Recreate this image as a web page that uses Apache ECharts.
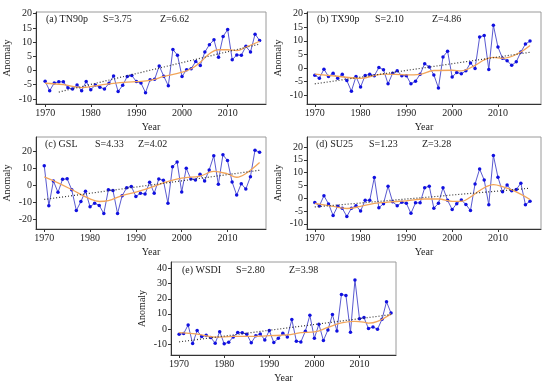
<!DOCTYPE html>
<html><head><meta charset="utf-8">
<script src="https://cdn.jsdelivr.net/npm/echarts@6/dist/echarts.min.js"></script>
<style>html,body{margin:0;padding:0;background:#fff}#c{width:550px;height:392px}</style>
</head><body><div id="c"></div>
<script>
const years = [];
for (let y = 1970; y <= 2017; y++) years.push(y);

const tn90p = [-3.8,-7.1,-4.4,-4.0,-4.0,-6.1,-6.5,-5.1,-7.1,-3.9,-6.8,-5.1,-5.9,-6.5,-4.5,-1.9,-7.4,-5.2,-2.1,-1.8,-3.9,-4.4,-7.8,-3.3,-3.1,1.6,-2.0,-5.4,7.4,5.4,-2.1,0.3,0.6,3.2,1.8,6.5,9.1,10.8,4.7,12.0,14.4,3.8,5.5,5.4,8.5,6.5,12.8,10.6];
const tx90p = [-2.6,-3.7,-0.4,-3.1,-1.9,-3.7,-2.3,-4.6,-8.5,-3.1,-7.0,-2.7,-2.3,-2.8,0.2,-0.6,-5.8,-1.9,-1.0,-2.8,-2.8,-5.8,-4.8,-2.3,1.6,0.4,-2.5,-7.3,4.1,6.2,-3.3,-1.6,-2.1,-1.0,1.9,-0.2,11.4,12.0,-0.5,15.7,7.7,3.6,2.7,1.0,2.3,5.9,8.8,9.9];
const gsl = [11.6,-12.0,2.6,-4.1,3.6,3.9,-2.6,-14.8,-9.5,-3.4,-12.6,-10.5,-11.8,-16.6,-2.6,-3.0,-16.6,-6.1,-1.4,-0.6,-6.5,-4.7,-5.1,1.8,-4.7,3.7,3.0,-10.5,11.0,13.8,-3.9,10.1,3.7,3.2,6.5,2.6,9.1,17.4,0.6,18.0,14.6,2.0,-5.7,1.0,-2.2,5.1,20.7,19.5];
const su25 = [-1.7,-3.0,1.0,-2.2,-6.7,-3.1,-3.9,-7.1,-3.9,-2.9,-5.0,-0.8,-0.8,8.1,-3.7,-2.1,4.7,-1.4,-2.9,-1.6,-2.0,-5.9,-1.8,-1.8,4.1,4.7,-3.9,-2.0,4.1,-0.8,-4.4,-2.1,-0.7,-2.4,-4.8,5.6,11.4,7.1,-2.5,16.7,8.2,2.5,5.2,2.9,3.4,5.9,-2.5,-1.2];
const wsdi = [-3.5,-3.1,2.6,-9.7,-1.1,-5.1,-4.2,-5.7,-9.5,-1.8,-9.9,-8.8,-5.3,-2.4,-2.6,-3.5,-9.2,-4.6,-3.3,-7.3,-1.1,-9.0,-6.2,-2.9,-5.3,6.2,-8.1,-8.6,-1.5,9.0,-6.2,3.1,-7.7,-0.7,9.5,-1.3,22.9,22.2,-2.2,32.5,6.8,7.5,0.2,1.3,-0.2,6.4,18.0,10.5];

// smooth curve knots [year, value]
const tn90pSmooth = [[1970,-4.5],[1974,-5.0],[1978,-6.0],[1981,-5.4],[1985,-4.5],[1990,-3.9],[1993,-3.5],[1996,-2.1],[2000,-0.6],[2002,0.6],[2004,2.9],[2006,5.9],[2008,7.3],[2010,7.3],[2012,7.0],[2014,8.2],[2017,10.3]];
const tx90pSmooth = [[1970,-2.2],[1975,-3.0],[1980,-3.8],[1985,-2.2],[1990,-2.5],[1993,-2.3],[1996,-0.9],[2000,-0.8],[2002,-1.0],[2005,1.0],[2007,3.0],[2009,3.9],[2011,3.6],[2014,5.0],[2017,8.3]];
const gslSmooth = [[1970,5.0],[1973,1.5],[1976,-2.5],[1980,-8.0],[1982,-9.5],[1984,-9.0],[1987,-6.0],[1990,-4.0],[1993,-1.5],[1996,1.5],[2000,4.3],[2004,5.5],[2007,8.2],[2010,6.8],[2012,4.8],[2014,7.0],[2017,13.5]];
const su25Smooth = [[1970,-2.0],[1974,-3.2],[1977,-4.0],[1980,-3.2],[1983,-2.0],[1986,-1.5],[1990,-1.0],[1994,-0.3],[1997,-0.3],[2000,-1.2],[2002,-1.2],[2004,0.5],[2006,3.0],[2009,5.3],[2011,4.5],[2014,2.5],[2017,-0.5]];
const wsdiSmooth = [[1970,-2.5],[1974,-3.5],[1978,-5.5],[1982,-5.0],[1986,-5.0],[1990,-4.5],[1994,-4.0],[1997,-2.5],[2000,-2.0],[2003,1.0],[2006,4.0],[2009,5.0],[2011,4.5],[2012,3.8],[2014,5.0],[2017,10.0]];

// linear trend endpoints
const tn90pTrend = [[1973,-7.6],[2017,9.3]];
const tx90pTrend = [[1970,-5.8],[2017,5.8]];
const gslTrend = [[1970,-8.3],[2017,8.9]];
const su25Trend = [[1970,-3.4],[2017,3.9]];
const wsdiTrend = [[1970,-8.6],[2017,9.5]];

const panelNames = ['(a) TN90p','(b) TX90p','(c) GSL','(d) SU25','(e) WSDI'];
const sLabels = ['S=3.75','S=2.10','S=4.33','S=1.23','S=2.80'];
const zLabels = ['Z=6.62','Z=4.86','Z=4.02','Z=3.28','Z=3.98'];
const xTicks = [1970,1980,1990,2000,2010];
const yTicks = [
  [-10,-5,0,5,10,15,20],
  [-10,-5,0,5,10,15,20],
  [-20,-10,0,10,20],
  [-10,-5,0,5,10,15,20],
  [-10,0,10,20,30,40]
];

const values = [tn90p, tx90p, gsl, su25, wsdi];
const smooths = [tn90pSmooth, tx90pSmooth, gslSmooth, su25Smooth, wsdiSmooth];
const trends = [tn90pTrend, tx90pTrend, gslTrend, su25Trend, wsdiTrend];

const layout = [
  {left:36, top:12, width:230, height:92, xmin:1968, xmax:2018.4, ymin:-11.8, ymax:20.6, tx:[46,103,160], ty:20},
  {left:307, top:12, width:234, height:92, xmin:1968.3, xmax:2019.4, ymin:-13.2, ymax:20.6, tx:[317,375,432], ty:20},
  {left:36, top:137, width:230, height:92, xmin:1968.2, xmax:2018.4, ymin:-25.7, ymax:28.5, tx:[45,95,138], ty:145},
  {left:307, top:137, width:234, height:92, xmin:1968.3, xmax:2019.4, ymin:-12.0, ymax:23.9, tx:[316,369,422], ty:145},
  {left:171, top:262, width:225, height:93, xmin:1968.2, xmax:2018.1, ymin:-17.3, ymax:44.4, tx:[182,236,289], ty:271}
];

const FONT = '"Liberation Serif", "Times New Roman", serif';
const grid = [], xAxis = [], yAxis = [], series = [], graphic = [];
layout.forEach((L, i) => {
  grid.push({left:L.left, top:L.top, width:L.width, height:L.height, show:true, borderColor:'#9a9a9a', borderWidth:1, backgroundColor:'transparent'});
  xAxis.push({type:'value', gridIndex:i, min:L.xmin, max:L.xmax,
    name:'Year', nameLocation:'middle', nameGap:18,
    nameTextStyle:{fontFamily:FONT, fontSize:10, color:'#222'},
    axisLine:{show:true, onZero:false, lineStyle:{color:'#333', width:1}},
    axisTick:{show:true, length:3, customValues:xTicks, lineStyle:{color:'#333'}},
    axisLabel:{customValues:xTicks, formatter:v=>String(v), fontFamily:FONT, fontSize:10, color:'#222', margin:4},
    splitLine:{show:false}});
  yAxis.push({type:'value', gridIndex:i, min:L.ymin, max:L.ymax,
    name:'Anomaly', nameLocation:'middle', nameGap:24, nameRotate:90,
    nameTextStyle:{fontFamily:FONT, fontSize:10, color:'#222'},
    axisLine:{show:true, onZero:false, lineStyle:{color:'#333', width:1}},
    axisTick:{show:true, length:3, customValues:yTicks[i], lineStyle:{color:'#333'}},
    axisLabel:{customValues:yTicks[i], formatter:v=>String(v), fontFamily:FONT, fontSize:10, color:'#222', margin:4},
    splitLine:{show:false}});
  series.push({type:'line', xAxisIndex:i, yAxisIndex:i, data:years.map((y,k)=>[y, values[i][k]]),
    symbol:'circle', symbolSize:3.5, itemStyle:{color:'#1010e0'},
    lineStyle:{color:'#5a5ad0', width:1}, silent:true, z:3});
  series.push({type:'line', xAxisIndex:i, yAxisIndex:i, data:smooths[i], smooth:0.4, showSymbol:false,
    lineStyle:{color:'#f2a55a', width:1.3}, silent:true, z:4});
  series.push({type:'line', xAxisIndex:i, yAxisIndex:i, data:trends[i], showSymbol:false,
    lineStyle:{color:'#333', width:1.2, type:[1,2]}, silent:true, z:5});
  [panelNames[i], sLabels[i], zLabels[i]].forEach((t, j) => {
    graphic.push({type:'text', left:L.tx[j], top:L.ty - 6, style:{text:t, fontFamily:FONT, fontSize:10, fill:'#222'}});
  });
});

const chart = echarts.init(document.getElementById('c'), null, {renderer:'canvas'});
chart.setOption({animation:false, backgroundColor:'#fff', grid, xAxis, yAxis, series, graphic});
</script></body></html>
